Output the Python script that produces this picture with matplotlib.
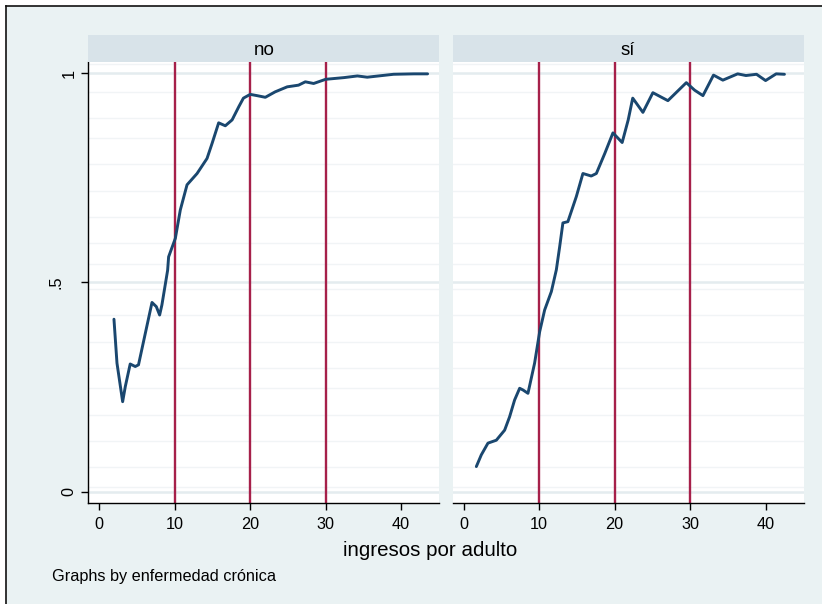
import matplotlib
matplotlib.use("Agg")
import matplotlib.pyplot as plt
import matplotlib.transforms as mtransforms
from matplotlib.patches import Rectangle
from matplotlib.lines import Line2D

plt.rcParams['font.family'] = ['Liberation Sans', 'DejaVu Sans']

# ---- data ----
panels = ["no", "sí"]
x_no = [1.95, 2.35, 3.1, 3.45, 4.1, 4.77, 5.2, 6.1, 6.99, 7.56, 8.0, 8.3, 9.06, 9.19,
        10.08, 10.74, 11.63, 12.96, 14.28, 14.95, 15.82, 16.7, 17.6, 18.5, 19.1, 20.0,
        20.9, 22.0, 23.3, 24.9, 26.4, 27.3, 28.4, 30.0, 32.4, 34.2, 35.5, 39.0, 41.7, 43.5]
y_no = [0.412, 0.307, 0.215, 0.251, 0.305, 0.299, 0.303, 0.378, 0.452, 0.442, 0.422, 0.446,
        0.529, 0.561, 0.605, 0.673, 0.733, 0.760, 0.796, 0.832, 0.881, 0.874, 0.888, 0.920,
        0.940, 0.949, 0.946, 0.942, 0.955, 0.967, 0.971, 0.979, 0.975, 0.985, 0.989, 0.993,
        0.990, 0.997, 0.998, 0.998]
x_si = [1.68, 2.34, 3.22, 4.33, 5.43, 6.09, 6.75, 7.42, 7.86, 8.52, 9.40, 10.07, 10.73,
        11.62, 12.28, 12.72, 13.15, 13.81, 14.93, 15.8, 16.9, 17.58, 18.7, 19.78, 21.0,
        21.8, 22.4, 23.75, 25.07, 27.06, 29.5, 30.6, 31.7, 33.1, 34.34, 36.3, 37.4, 38.8,
        40.0, 41.4, 42.5]
y_si = [0.060, 0.088, 0.116, 0.123, 0.147, 0.179, 0.219, 0.247, 0.243, 0.235, 0.307, 0.382,
        0.434, 0.478, 0.530, 0.585, 0.642, 0.645, 0.705, 0.760, 0.754, 0.760, 0.808, 0.857,
        0.834, 0.888, 0.940, 0.906, 0.953, 0.934, 0.977, 0.959, 0.946, 0.995, 0.983, 0.998,
        0.994, 0.997, 0.982, 0.998, 0.997]
ref_lines = [10, 20, 30]
x_ticks = [0, 10, 20, 30, 40]
y_ticks = [0, 0.5, 1]
y_tick_labels = ["0", ".5", "1"]
y_grid_minor = [0.012, 0.058, 0.122, 0.183, 0.247, 0.295, 0.358, 0.422, 0.483, 0.545,
                0.593, 0.657, 0.719, 0.782, 0.844, 0.892, 0.954, 1.021]
series = [(x_no, y_no), (x_si, y_si)]

W, H = 822, 604
fig = plt.figure(figsize=(W / 100, H / 100), dpi=100, facecolor="white")

bg = "#EAF2F3"
strip_c = "#D8E3E9"
navy = "#1A476F"
red = "#A6204A"

# outer frame (only left/top edges visible in the crop)
fx, fy = 5.5 / W, 1 - 5.5 / H
fig.patches.append(Rectangle((fx, 0), 1 - fx, fy, transform=fig.transFigure,
                             facecolor=bg, edgecolor="none", zorder=-20))
fig.add_artist(Line2D([fx, fx], [0, fy], transform=fig.transFigure, color="#111111", lw=1.2, zorder=-10))
fig.add_artist(Line2D([fx, 1], [fy, fy], transform=fig.transFigure, color="#111111", lw=1.2, zorder=-10))

lefts = [88.3, 452.7]
width_px = 351.0
top_px, bot_px = 62.3, 503.3
strip_top = 35.0

for i, (name, (xs, ys)) in enumerate(zip(panels, series)):
    l = lefts[i]
    ax = fig.add_axes([l / W, 1 - bot_px / H, width_px / W, (bot_px - top_px) / H])
    ax.set_facecolor("white")
    ax.set_xlim(-1.45, 45.05)
    ax.set_ylim(-0.0277, 1.0256)
    for v in y_grid_minor:
        ax.axhline(v, color="#F1F4F6", lw=1.0, zorder=1)
    for v in y_ticks:
        ax.axhline(v, color="#E4ECEF", lw=1.8, zorder=1)
    for v in ref_lines:
        ax.axvline(v, color=red, lw=1.7, zorder=2)
    ax.plot(xs, ys, color=navy, lw=2.1, solid_joinstyle="round", solid_capstyle="round", zorder=3)

    for s in ["top", "right"]:
        ax.spines[s].set_visible(False)
    ax.spines["bottom"].set_color("black")
    ax.spines["bottom"].set_linewidth(1.0)
    ax.set_xticks(x_ticks)
    ax.set_xticklabels([str(t) for t in x_ticks])
    ax.tick_params(axis="x", length=4.8, width=1, pad=5, labelsize=11.7, colors="black")
    if i == 0:
        ax.spines["left"].set_color("black")
        ax.spines["left"].set_linewidth(1.0)
        ax.set_yticks(y_ticks)
        ax.set_yticklabels(y_tick_labels, rotation=90, va="center")
        ax.tick_params(axis="y", length=4.8, width=1, pad=3.6, labelsize=11.7, colors="black")
        lab = ax.get_yticklabels()[1]
        lab.set_transform(lab.get_transform() +
                          mtransforms.ScaledTranslation(-13 / 100, 0, fig.dpi_scale_trans))
    else:
        ax.spines["left"].set_visible(False)
        ax.set_yticks([])

    # strip header
    sax = fig.add_axes([l / W, 1 - top_px / H, width_px / W, (top_px - strip_top) / H])
    sax.set_facecolor(strip_c)
    sax.set_xticks([]); sax.set_yticks([])
    for s in sax.spines.values():
        s.set_visible(False)
    sax.text(0.5, 0.45, name, ha="center", va="center", fontsize=13.5, transform=sax.transAxes)

fig.text(430 / W, 1 - 551 / H, "ingresos por adulto", ha="center", va="center", fontsize=14.8)
fig.text(52 / W, 1 - 577 / H, "Graphs by enfermedad crónica", ha="left", va="center", fontsize=11.7)

fig.savefig("out.png", dpi=100, facecolor=fig.get_facecolor())
